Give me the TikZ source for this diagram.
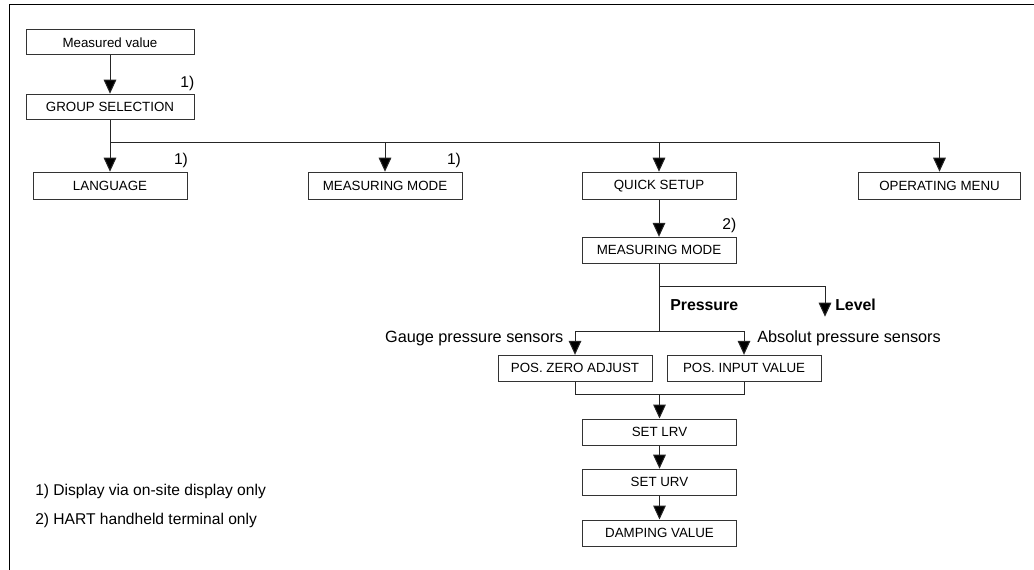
\documentclass[tikz,border=0pt]{standalone}
\usepackage{fontspec}
\setmainfont{Liberation Sans}
\usetikzlibrary{arrows.meta,positioning}

\begin{document}
\begin{tikzpicture}[
    x=0.75pt, y=-0.75pt,
    block/.style={draw=black!80, line width=0.75pt, minimum width=115.5pt, minimum height=19.5pt, inner sep=0pt, align=center, font=\fontsize{10}{12}\selectfont},
    link/.style={-{Triangle[length=10.5pt, width=9.5pt, fill=black]}, draw=black!85, line width=0.75pt},
    wire/.style={draw=black!85, line width=0.75pt},
    note/.style={inner sep=0pt, font=\fontsize{11.7}{14}\selectfont},
    side/.style={inner sep=0pt, font=\fontsize{12.2}{14}\selectfont},
    choice/.style={inner sep=0pt, font=\fontsize{11.9}{14}\selectfont\bfseries}
]
\useasboundingbox (0,0) rectangle (1034,570);
% frame
\draw[line width=1pt] (9.3,570) -- (9.3,4.3) -- (1034,4.3);

% menu boxes
\node[block, minimum width=126pt, minimum height=18.75pt] (mval) at (110,42.5) {Measured value};
\node[block, minimum width=126pt, minimum height=18.75pt] (grpsel) at (110,106.7) {GROUP SELECTION};
\node[block, minimum height=20.25pt] (lang) at (110,185.7) {LANGUAGE};
\node[block, minimum height=20.25pt] (mmode) at (385,185.7) {MEASURING MODE};
\node[block, minimum height=20.25pt] (qsetup) at (659,185.7) {QUICK SETUP};
\node[block, minimum height=20.25pt, minimum width=122pt] (opmenu) at (939.5,185.7) {OPERATING MENU};
\node[block] (mmode2) at (659,250.3) {MEASURING MODE};
\node[block] (zero) at (575,368.3) {POS. ZERO ADJUST};
\node[block] (input) at (744,368.3) {POS. INPUT VALUE};
\node[block] (lrv) at (659.5,432) {SET LRV};
\node[block] (urv) at (659.5,482.2) {SET URV};
\node[block] (damp) at (659.5,533) {DAMPING VALUE};

% footnote marks
\node[note, above left=2pt and 0pt of grpsel.north east] (mk1) {1)};
\node[note, above left=3pt and -0.5pt of lang.north east] (mk2) {1)};
\node[note, above left=3pt and 1pt of mmode.north east] (mk3) {1)};
\node[note, above left=3pt and 0pt of mmode2.north east] (mk4) {2)};

% branch texts
\node[choice, anchor=west] (press) at (670,305) {Pressure};
\node[choice, anchor=west] (level) at (835,305) {Level};
\node[side, anchor=east] (gauge) at (563.5,339) {Gauge pressure sensors};
\node[side, anchor=west] (absol) at (757,338.5) {Absolut pressure sensors};

% footnotes
\node[note, anchor=west] (fn1) at (35,491.5) {1) Display via on-site display only};
\node[note, anchor=west] (fn2) at (35,520) {2) HART handheld terminal only};

% connectors
\coordinate (bus) at (110,143);
\coordinate (split) at (659,286.3);
\coordinate (lvl) at (825,316.7);
\coordinate (fork) at (659,331.7);
\coordinate (merge) at (659.5,394);
\draw[link] (mval) -- (grpsel);
\draw[link] (grpsel) -- (lang);
\draw[link] (bus) -| (opmenu);
\draw[link] (bus -| mmode) -- (mmode);
\draw[link] (bus -| qsetup) -- (qsetup);
\draw[link] (qsetup) -- (mmode2);
\draw[wire] (mmode2) -- (fork);
\draw[link] (split) -| (lvl);
\draw[link] (fork) -| (zero);
\draw[link] (fork) -| (input);
\draw[wire] (zero) |- (merge);
\draw[wire] (input) |- (merge);
\draw[link] (merge) -- (lrv);
\draw[link] (lrv) -- (urv);
\draw[link] (urv) -- (damp);
\end{tikzpicture}
\end{document}
